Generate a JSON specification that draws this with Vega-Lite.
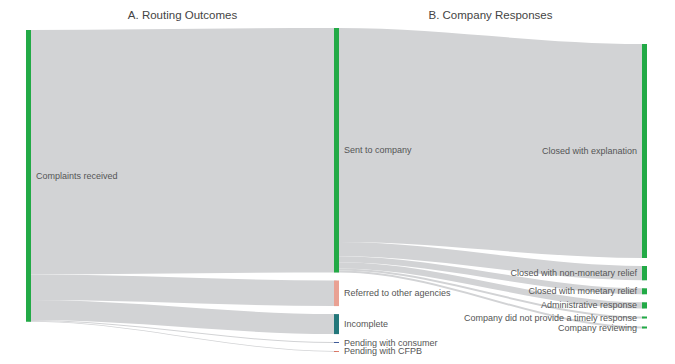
{
  "$schema": "https://vega.github.io/schema/vega-lite/v6.json",
  "width": 675,
  "height": 364,
  "autosize": {"type": "none"},
  "padding": 0,
  "background": "white",
  "config": {"view": {"stroke": null}, "font": "Liberation Sans"},
  "datasets": {
    "nodes": [
      {"node": "Complaints received", "stage": 0, "rank": 0, "value": 2917},
      {"node": "Sent to company", "stage": 1, "rank": 0, "value": 2445},
      {"node": "Referred to other agencies", "stage": 1, "rank": 1, "value": 256},
      {"node": "Incomplete", "stage": 1, "rank": 2, "value": 200},
      {"node": "Pending with consumer", "stage": 1, "rank": 3, "value": 9},
      {"node": "Pending with CFPB", "stage": 1, "rank": 4, "value": 7},
      {"node": "Closed with explanation", "stage": 2, "rank": 0, "value": 2140},
      {"node": "Closed with non-monetary relief", "stage": 2, "rank": 1, "value": 143},
      {"node": "Closed with monetary relief", "stage": 2, "rank": 2, "value": 60},
      {"node": "Administrative response", "stage": 2, "rank": 3, "value": 62},
      {"node": "Company did not provide a timely response", "stage": 2, "rank": 4, "value": 20},
      {"node": "Company reviewing", "stage": 2, "rank": 5, "value": 20}
    ],
    "links": [
      {"source": "Complaints received", "target": "Sent to company", "value": 2445},
      {"source": "Complaints received", "target": "Referred to other agencies", "value": 256},
      {"source": "Complaints received", "target": "Incomplete", "value": 200},
      {"source": "Complaints received", "target": "Pending with consumer", "value": 9},
      {"source": "Complaints received", "target": "Pending with CFPB", "value": 7},
      {"source": "Sent to company", "target": "Closed with explanation", "value": 2140},
      {"source": "Sent to company", "target": "Closed with non-monetary relief", "value": 143},
      {"source": "Sent to company", "target": "Closed with monetary relief", "value": 60},
      {"source": "Sent to company", "target": "Administrative response", "value": 62},
      {"source": "Sent to company", "target": "Company did not provide a timely response", "value": 20},
      {"source": "Sent to company", "target": "Company reviewing", "value": 20}
    ],
    "titles": [
      {"title": "A. Routing Outcomes", "stage": 0},
      {"title": "B. Company Responses", "stage": 1}
    ]
  },
  "layer": [
    {
      "data": {"name": "links"},
      "transform": [
        {"lookup": "source", "from": {"data": {"name": "nodes"}, "key": "node", "fields": ["stage", "rank"]}, "as": ["sstage", "srank"]},
        {"lookup": "target", "from": {"data": {"name": "nodes"}, "key": "node", "fields": ["stage", "rank"]}, "as": ["tstage", "trank"]},
        {"window": [{"op": "sum", "field": "value", "as": "scum"}], "groupby": ["sstage"], "sort": [{"field": "srank"}, {"field": "trank"}], "frame": [null, 0]},
        {"window": [{"op": "sum", "field": "value", "as": "tcum"}], "groupby": ["tstage"], "sort": [{"field": "trank"}, {"field": "srank"}], "frame": [null, 0]},
        {"calculate": "(datum.sstage == 2 ? 440 : datum.sstage == 1 ? 280 : 300) + datum.srank * 80 + datum.scum - datum.value", "as": "sy0"},
        {"calculate": "datum.sy0 + datum.value", "as": "sy1"},
        {"calculate": "(datum.tstage == 2 ? 440 : datum.tstage == 1 ? 280 : 300) + datum.trank * 80 + datum.tcum - datum.value", "as": "ty0"},
        {"calculate": "datum.ty0 + datum.value", "as": "ty1"},
        {"calculate": "datum.sstage", "as": "pa"},
        {"calculate": "datum.sstage + 0.008", "as": "pb"},
        {"calculate": "datum.tstage - 0.008", "as": "pc"},
        {"calculate": "datum.tstage", "as": "pd"},
        {"fold": ["pa", "pb", "pc", "pd"], "as": ["pt", "px"]},
        {"calculate": "(datum.pt == 'pa' || datum.pt == 'pb') ? datum.sy0 : datum.ty0", "as": "top"},
        {"calculate": "(datum.pt == 'pa' || datum.pt == 'pb') ? datum.sy1 : datum.ty1", "as": "bot"}
      ],
      "mark": {"type": "area", "interpolate": "monotone", "color": "#d2d3d5"},
      "encoding": {
        "x": {"field": "px", "type": "quantitative", "scale": {"domain": [-0.09253, 2.09903], "nice": false, "zero": false, "padding": 0}, "axis": null},
        "y": {"field": "top", "type": "quantitative", "stack": null, "scale": {"domain": [0, 3640], "reverse": true, "nice": false, "zero": false}, "axis": null},
        "y2": {"field": "bot"},
        "detail": {"field": "target", "type": "nominal"}
      }
    },
    {
      "data": {"name": "nodes"},
      "transform": [
        {"window": [{"op": "sum", "field": "value", "as": "cum"}], "groupby": ["stage"], "sort": [{"field": "rank"}], "frame": [null, 0]},
        {"calculate": "(datum.stage == 2 ? 440 : datum.stage == 1 ? 280 : 300) + datum.rank * 80 + datum.cum - datum.value", "as": "y0"},
        {"calculate": "datum.y0 + datum.value", "as": "y1"},
        {"calculate": "(datum.y0 + datum.y1) / 2", "as": "ym"}
      ],
      "layer": [
        {
          "mark": {"type": "bar", "width": 5},
          "encoding": {
            "x": {"field": "stage", "type": "quantitative"},
            "y": {"field": "y0", "type": "quantitative", "stack": null},
            "y2": {"field": "y1"},
            "color": {
              "field": "node", "type": "nominal", "legend": null,
              "scale": {
                "domain": ["Complaints received", "Sent to company", "Referred to other agencies", "Incomplete", "Pending with consumer", "Pending with CFPB", "Closed with explanation", "Closed with non-monetary relief", "Closed with monetary relief", "Administrative response", "Company did not provide a timely response", "Company reviewing"],
                "range": ["#22aa46", "#22aa46", "#e9a193", "#23777a", "#2b4a8f", "#d2472d", "#22aa46", "#22aa46", "#22aa46", "#22aa46", "#22aa46", "#22aa46"]
              }
            }
          }
        },
        {
          "transform": [{"filter": "datum.stage < 2"}],
          "mark": {"type": "text", "align": "left", "baseline": "middle", "dx": 7.5, "fontSize": 9, "color": "#555555"},
          "encoding": {
            "x": {"field": "stage", "type": "quantitative"},
            "y": {"field": "ym", "type": "quantitative"},
            "text": {"field": "node"}
          }
        },
        {
          "transform": [{"filter": "datum.stage == 2"}],
          "mark": {"type": "text", "align": "right", "baseline": "middle", "dx": -7.5, "fontSize": 9, "color": "#555555"},
          "encoding": {
            "x": {"field": "stage", "type": "quantitative"},
            "y": {"field": "ym", "type": "quantitative"},
            "text": {"field": "node"}
          }
        }
      ]
    },
    {
      "data": {"name": "titles"},
      "transform": [{"calculate": "datum.stage + 0.5", "as": "tx"}],
      "mark": {"type": "text", "align": "center", "baseline": "middle", "fontSize": 11.5, "color": "#444444"},
      "encoding": {
        "x": {"field": "tx", "type": "quantitative"},
        "y": {"datum": 160, "type": "quantitative"},
        "text": {"field": "title"}
      }
    }
  ]
}
